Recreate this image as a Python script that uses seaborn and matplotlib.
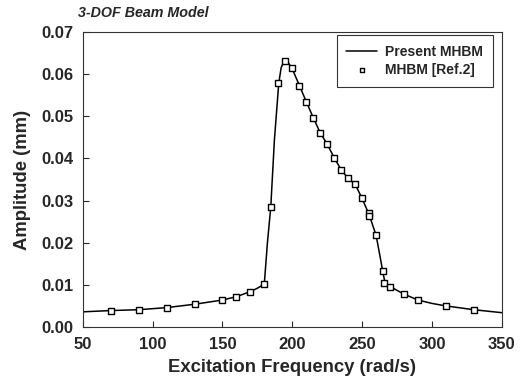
import numpy as np
import pandas as pd
import matplotlib
matplotlib.use("Agg")
import matplotlib.pyplot as plt
import seaborn as sns

# present MHBM (solid curve)
freq_line = [50, 70, 90, 110, 130, 150, 160, 170, 175, 178, 180, 182.2, 184.6, 187.2,
             190.3, 192, 194.5, 197, 199.8, 205, 210, 215, 220, 225, 230, 235, 240,
             245, 250, 255, 260, 263, 265, 266.5, 270, 280, 290, 300, 310, 330, 350]
amp_line = [0.0036, 0.0039, 0.0041, 0.0046, 0.0054, 0.0064, 0.0072, 0.0084, 0.0092,
            0.0098, 0.0104, 0.0200, 0.0285, 0.0444, 0.0578, 0.0615, 0.0635, 0.0628,
            0.0614, 0.0574, 0.0535, 0.0497, 0.0461, 0.0434, 0.0402, 0.0373, 0.0353,
            0.0339, 0.0305, 0.0267, 0.0218, 0.0165, 0.0128, 0.0104, 0.0096, 0.0078,
            0.0064, 0.0056, 0.0050, 0.0041, 0.0034]

# MHBM [Ref.2] (square markers)
freq_ref = [70, 90, 110, 130, 150, 160, 170, 180, 185, 190, 195, 200, 205, 210, 215,
            220, 225, 230, 235, 240, 245, 250, 254.7, 255.3, 260, 265, 266, 270, 280,
            290, 310, 330]
amp_ref = [0.0039, 0.0041, 0.0046, 0.0054, 0.0064, 0.0072, 0.0084, 0.0103, 0.0285,
           0.0578, 0.0632, 0.0614, 0.0573, 0.0534, 0.0497, 0.0461, 0.0434, 0.0402,
           0.0373, 0.0353, 0.0339, 0.0305, 0.0271, 0.0263, 0.0218, 0.0133, 0.0105,
           0.0096, 0.0078, 0.0064, 0.0050, 0.0041]

line_df = pd.DataFrame({"freq": freq_line, "amp": amp_line})
ref_df = pd.DataFrame({"freq": freq_ref, "amp": amp_ref})

sns.set_style("ticks")
plt.rcParams["font.family"] = ["Liberation Sans", "DejaVu Sans"]
plt.rcParams["font.weight"] = "bold"

fig, ax = plt.subplots(figsize=(5.21, 3.82), dpi=100)
fig.subplots_adjust(left=0.159, right=0.963, top=0.916, bottom=0.144)

sns.lineplot(data=line_df, x="freq", y="amp", color="black", linewidth=1.1,
             label="Present MHBM", ax=ax, sort=False)
sns.scatterplot(data=ref_df, x="freq", y="amp", marker="s", s=20, facecolor="white",
                edgecolor="black", linewidth=1.0, label="MHBM [Ref.2]", ax=ax, zorder=3)

ax.set_xlim(50, 350)
ax.set_ylim(0, 0.07)
ax.set_xticks(np.arange(50, 351, 50))
ax.set_yticks(np.arange(0, 0.0701, 0.01))
ax.yaxis.set_major_formatter(matplotlib.ticker.FormatStrFormatter("%.2f"))
ax.tick_params(direction="in", length=4, width=0.8, labelsize=12, pad=7,
               top=False, right=False)
for lab in ax.get_xticklabels() + ax.get_yticklabels():
    lab.set_fontweight("bold")
for sp in ax.spines.values():
    sp.set_visible(True)
    sp.set_linewidth(0.8)
    sp.set_color("#333333")

ax.set_xlabel("Excitation Frequency (rad/s)", fontsize=13.3, fontweight="bold", labelpad=5)
ax.set_ylabel("Amplitude (mm)", fontsize=13.3, fontweight="bold", labelpad=7)

fig.text(78 / 521, 1 - 13 / 382, "3-DOF Beam Model", fontsize=10.3, fontweight="bold",
         style="italic", va="center", ha="left")

leg = ax.legend(loc="upper right", bbox_to_anchor=(0.979, 0.99), borderaxespad=0,
                frameon=True, fancybox=False, edgecolor="black", fontsize=10,
                handlelength=2.2, borderpad=0.7, labelspacing=0.3, handletextpad=0.6,
                markerscale=0.7)
leg.get_frame().set_linewidth(0.8)
for t in leg.get_texts():
    t.set_fontweight("bold")

fig.savefig("out.png", dpi=100)
